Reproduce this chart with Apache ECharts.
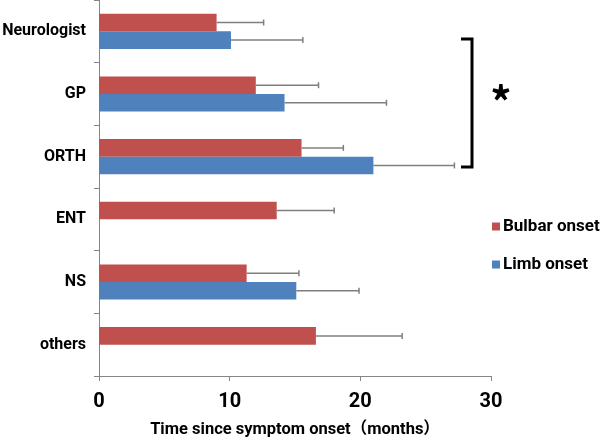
<!DOCTYPE html>
<html>
<head>
<meta charset="utf-8">
<script src="https://cdn.jsdelivr.net/npm/echarts@6/dist/echarts.min.js"></script>
<style>
html,body{margin:0;padding:0;background:#fff;}
#chart{width:600px;height:442px;}
</style>
</head>
<body>
<div id="chart"></div>
<script>
const categories = ['Neurologist', 'GP', 'ORTH', 'ENT', 'NS', 'others'];
const bulbarMean = [9.0, 12.0, 15.5, 13.6, 11.3, 16.6];
const bulbarSD   = [3.6, 4.8, 3.2, 4.4, 4.0, 6.6];
const limbMean   = [10.1, 14.2, 21.0, 0, 15.1, 0];
const limbSD     = [5.5, 7.8, 6.2, 0, 4.8, 0];
const xTicks = [0, 10, 20, 30];
const seriesNames = ['Bulbar onset', 'Limb onset'];
const xTitle = 'Time since symptom onset（months）';

const RED = '#C0504D', BLUE = '#4F81BD';
const FONT = 'Roboto, "Noto Sans CJK JP", sans-serif';
const CJK = '"Noto Sans CJK JP", sans-serif';
const chart = echarts.init(document.getElementById('chart'), null, {renderer: 'canvas'});

function errItem(sign) {
  return function (params, api) {
    const v = api.value(0), c = api.value(1), e = api.value(2);
    if (!e) return null;
    const band = api.size([0, 1])[1];
    const off = sign * 0.14 * band;
    const p0 = api.coord([v, c]);
    const p1 = api.coord([v + e, c]);
    const y = p0[1] + off;
    return {
      type: 'group',
      children: [
        {type: 'line', shape: {x1: p0[0], y1: y, x2: p1[0], y2: y}, style: {stroke: '#7f7f7f', lineWidth: 1.5}},
        {type: 'line', shape: {x1: p1[0], y1: y - 3, x2: p1[0], y2: y + 3}, style: {stroke: '#7f7f7f', lineWidth: 1.5}}
      ]
    };
  };
}

const option = {
  animation: false,
  backgroundColor: '#fff',
  textStyle: {fontFamily: FONT},
  grid: {left: 99, right: 109, top: 0, bottom: 66, containLabel: false, outerBoundsMode: 'none'},
  legend: {
    orient: 'vertical', left: 487, top: 213, itemGap: 21,
    itemWidth: 8, itemHeight: 8, icon: 'rect',
    data: seriesNames,
    textStyle: {fontFamily: FONT, fontSize: 17, fontWeight: 'bold', color: '#000', padding: [0, 0, 0, -2]}
  },
  xAxis: {
    type: 'value', min: xTicks[0], max: xTicks[xTicks.length - 1], interval: 10,
    axisLine: {show: true, lineStyle: {color: '#868686', width: 1}},
    axisTick: {show: true, length: 5, lineStyle: {color: '#868686'}},
    splitLine: {show: false},
    axisLabel: {fontFamily: FONT, fontSize: 20, fontWeight: 'bold', color: '#000', margin: 16},
    name: xTitle, nameLocation: 'middle', nameGap: 46,
    nameTextStyle: {fontFamily: FONT, fontSize: 16.5, fontWeight: 'bold', color: '#000'}
  },
  yAxis: {
    type: 'category', data: categories, inverse: true,
    axisLine: {show: true, lineStyle: {color: '#868686', width: 1}},
    axisTick: {show: true, length: 5, lineStyle: {color: '#868686'}},
    axisLabel: {fontFamily: FONT, fontSize: 16, fontWeight: 'bold', color: '#000', margin: 13}
  },
  series: [
    {name: seriesNames[0], type: 'bar', data: bulbarMean, barWidth: '28%', barGap: '0%',
     itemStyle: {color: RED}},
    {name: seriesNames[1], type: 'bar', data: limbMean, barWidth: '28%', barGap: '0%',
     itemStyle: {color: BLUE}},
    {type: 'custom', renderItem: errItem(-1), encode: {x: 0, y: 1}, z: 5, silent: true,
     data: bulbarMean.map((m, i) => [m, i, bulbarSD[i]])},
    {type: 'custom', renderItem: errItem(1), encode: {x: 0, y: 1}, z: 5, silent: true,
     data: limbMean.map((m, i) => [m, i, limbSD[i]])}
  ],
  graphic: [
    {type: 'polyline', shape: {points: [[461, 39], [472, 39], [472, 167], [461, 167]]},
     style: {stroke: '#000', lineWidth: 3, fill: null}},
    {type: 'text', x: 501, y: 102, style: {text: '*', fontSize: 42, fontWeight: 'bold', fontFamily: CJK, fill: '#000', align: 'center', verticalAlign: 'middle'}}
  ]
};
chart.setOption(option);
</script>
</body>
</html>
